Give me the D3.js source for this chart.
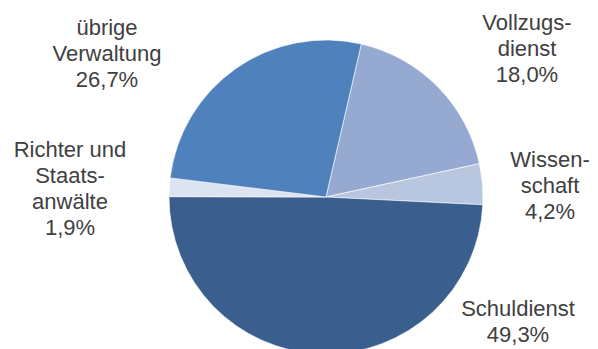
<!DOCTYPE html>
<html>
<head>
<meta charset="utf-8">
<script src="https://cdn.jsdelivr.net/npm/d3@7"></script>
<style>
  html, body { margin: 0; padding: 0; background: #fff; }
  svg { display: block; }
</style>
</head>
<body>
<svg id="chart" width="598" height="349"></svg>
<script>
// Personalausgaben nach Bereichen (Anteile in %)
const categories = ["Vollzugsdienst", "Wissenschaft", "Schuldienst", "Richter und Staatsanwälte", "übrige Verwaltung"];
const values = [18.0, 4.2, 49.3, 1.9, 26.7];
const labelLines = [
  ["Vollzugs-", "dienst"],
  ["Wissen-", "schaft"],
  ["Schuldienst"],
  ["Richter und", "Staats-", "anwälte"],
  ["übrige", "Verwaltung"]
];
const colors = ["#95a9d1", "#b9c6e0", "#3a5f8e", "#dce4f1", "#4f81bd"];

const W = 598, H = 349;
const cx = 326, cy = 197, r = 157;
const startDeg = 13;

// label anchor (centre x, baseline of first line)
const labelPos = [
  [527, 30],
  [550, 167],
  [518, 316],
  [70, 157],
  [107, 35]
];
const lineH = 26;

const fmt = v => d3.format(".1f")(v).replace(".", ",") + "%";

const svg = d3.select("#chart");

const pie = d3.pie()
  .sort(null)
  .value(d => d.value)
  .startAngle(startDeg * Math.PI / 180)
  .endAngle(startDeg * Math.PI / 180 + 2 * Math.PI);

const arc = d3.arc().innerRadius(0).outerRadius(r);

const data = categories.map((c, i) => ({ name: c, value: values[i], lines: labelLines[i], color: colors[i] }));

const g = svg.append("g").attr("transform", `translate(${cx},${cy})`);
g.selectAll("path")
  .data(pie(data))
  .join("path")
  .attr("d", arc)
  .attr("fill", d => d.data.color)
  .attr("stroke", "#ffffff")
  .attr("stroke-width", 0.6);

const labels = svg.append("g")
  .attr("font-family", "'Liberation Sans', Arial, sans-serif")
  .attr("font-size", 22)
  .attr("fill", "#404040")
  .attr("text-anchor", "middle");

data.forEach((d, i) => {
  const [lx, ly] = labelPos[i];
  const t = labels.append("text").attr("x", lx).attr("y", ly);
  const lines = d.lines.concat([fmt(d.value)]);
  lines.forEach((s, j) => {
    t.append("tspan").attr("x", lx).attr("y", ly + j * lineH).text(s);
  });
});
</script>
</body>
</html>
